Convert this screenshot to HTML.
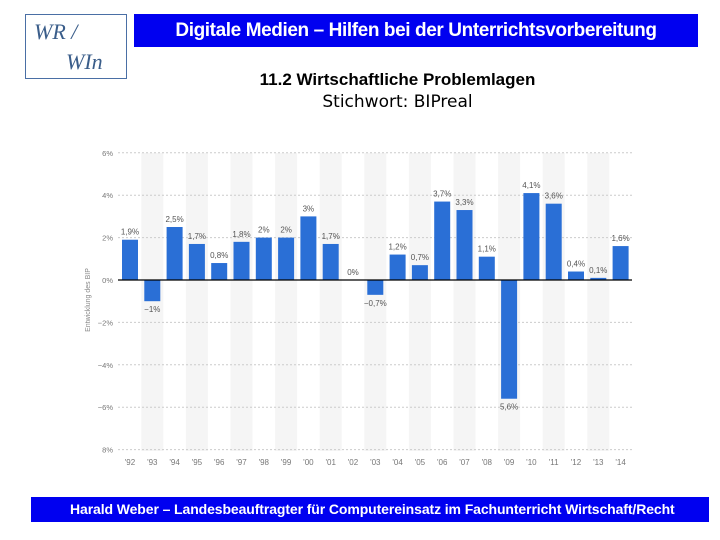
<!DOCTYPE html>
<html><head><meta charset="utf-8"><style>
body{margin:0;width:720px;height:540px;background:#fff;position:relative;overflow:hidden;font-family:"Liberation Sans",sans-serif}
#logo{position:absolute;left:25px;top:14px;width:102px;height:65px;border:1px solid #4a6fa5;box-sizing:border-box;font-family:"Liberation Serif",serif;font-style:italic;color:#3a5d8a;font-size:22px}
#hdr{position:absolute;left:134px;top:14px;width:564px;height:33px;background:#0000f0;color:#fff;font-size:19px;font-weight:bold;letter-spacing:-0.4px;line-height:33px;text-align:center}
#t1{position:absolute;left:0;width:795px;top:70px;text-align:center;font-weight:bold;font-size:17px;letter-spacing:0px}
#t2{position:absolute;left:0;width:795px;top:92px;text-align:center;font-family:"DejaVu Sans",sans-serif;font-size:17px}
#ftr{position:absolute;left:31px;top:497px;width:678px;height:25px;background:#0000f0;color:#fff;font-size:14px;line-height:25px;font-weight:bold;letter-spacing:-0.1px;text-indent:39px;white-space:nowrap}
svg{position:absolute;left:0;top:0}
</style></head><body>
<div id="logo"><span style="position:absolute;left:8px;top:4px">WR /</span><span style="position:absolute;left:40px;top:34px">WIn</span></div>
<div id="hdr">Digitale Medien – Hilfen bei der Unterrichtsvorbereitung</div>
<div id="t1">11.2 Wirtschaftliche Problemlagen</div>
<div id="t2">Stichwort: BIPreal</div>
<div id="ftr">Harald Weber – Landesbeauftragter für Computereinsatz im Fachunterricht Wirtschaft/Recht</div>
<svg id="chart" width="720" height="540"></svg>
<script>
const categories=["'92","'93","'94","'95","'96","'97","'98","'99","'00","'01","'02","'03","'04","'05","'06","'07","'08","'09","'10","'11","'12","'13","'14"];
const values=[1.9,-1,2.5,1.7,0.8,1.8,2,2,3,1.7,0,-0.7,1.2,0.7,3.7,3.3,1.1,-5.6,4.1,3.6,0.4,0.1,1.6];
const valueLabels=["1,9%","−1%","2,5%","1,7%","0,8%","1,8%","2%","2%","3%","1,7%","0%","−0,7%","1,2%","0,7%","3,7%","3,3%","1,1%","5,6%","4,1%","3,6%","0,4%","0,1%","1,6%"];
const ticks=[6,4,2,0,-2,-4,-6,-8];
const tickLabels=["6%","4%","2%","0%","−2%","−4%","−6%","8%"];
const NS="http://www.w3.org/2000/svg",svg=document.getElementById('chart');
const y=v=>280-v*21.2, x=i=>130+i*22.3;
function mk(t,a){const e=document.createElementNS(NS,t);for(const k in a)e.setAttribute(k,a[k]);svg.appendChild(e);return e;}
categories.forEach((c,i)=>{if(i%2==1){const r=mk('rect',{x:x(i)-11,y:153,width:22,height:298,fill:'#f5f5f5'});

}});
ticks.forEach((t,i)=>{if(t!==0){const l=mk('line',{x1:118,x2:632,y1:y(t),y2:y(t),stroke:'#ccc','stroke-dasharray':'2,2'});

}
const tx=mk('text',{x:113,y:y(t)+3,'text-anchor':'end','font-size':'7.5',fill:'#777'});tx.textContent=tickLabels[i];

});
values.forEach((v,i)=>{const b=mk('rect',{x:x(i)-8,y:Math.min(y(v),y(0)),width:16,height:Math.abs(y(v)-y(0)),fill:'#2a6fd6'});


const ly=v<0?y(v)+11:y(v)-5;
const t=mk('text',{x:x(i),y:ly,'text-anchor':'middle','font-size':'8',fill:'#555'});t.textContent=valueLabels[i];


const c=mk('text',{x:x(i),y:465,'text-anchor':'middle','font-size':'8',fill:'#777'});c.textContent=categories[i];

});
const z=mk('line',{x1:118,x2:632,y1:y(0),y2:y(0),stroke:'#000','stroke-width':1.2});


const at=mk('text',{x:0,y:0,transform:'translate(90,300) rotate(-90)','text-anchor':'middle','font-size':'7',fill:'#888'});at.textContent='Entwicklung des BIP';


</script>
</body></html>
